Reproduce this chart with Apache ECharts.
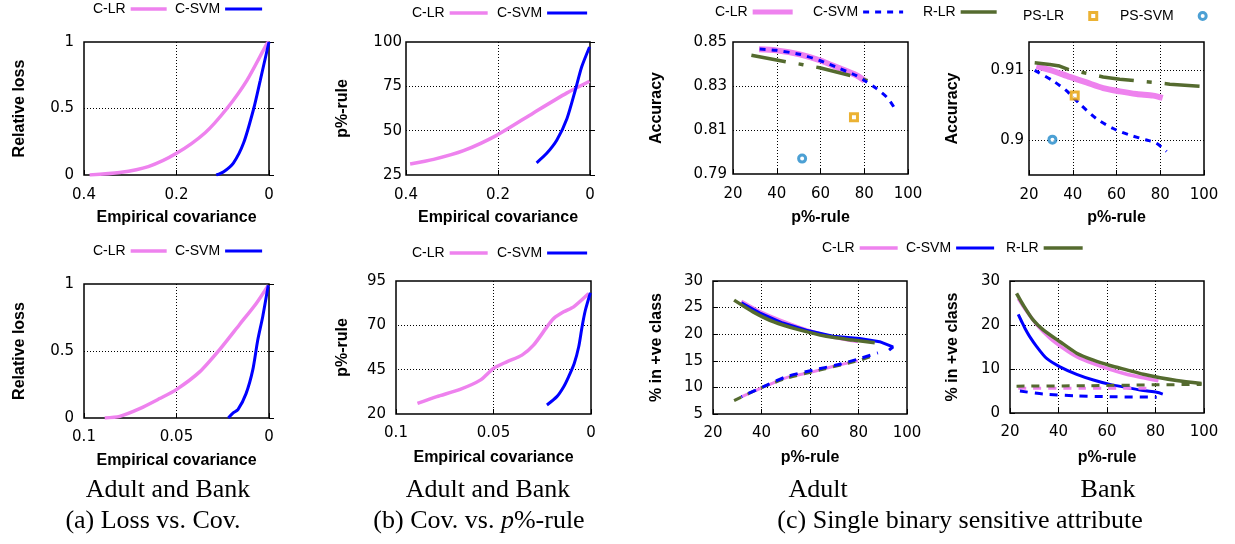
<!DOCTYPE html>
<html><head><meta charset="utf-8">
<script src="https://cdn.jsdelivr.net/npm/echarts@6/dist/echarts.min.js"></script>
<style>html,body{margin:0;padding:0;background:#fff}#c{width:1235px;height:544px}</style>
</head><body><div id="c"></div>
<script>
// ---------- data ----------
const lossAdultLR = [[0.388,0],[0.323,0.018],[0.261,0.063],[0.2,0.163],[0.138,0.318],[0.091,0.5],[0.048,0.71],[0.004,0.99],[0,1]];
const lossAdultSVM = [[0.114,0],[0.098,0.025],[0.077,0.09],[0.055,0.24],[0.033,0.5],[0.019,0.71],[0.004,0.94],[0,1]];
const pAdultLR = [[0.391,31.2],[0.34,33.8],[0.275,38.7],[0.202,47.5],[0.123,60],[0.05,71.3],[0.001,77.9]];
const pAdultSVM = [[0.116,31.9],[0.094,37.2],[0.072,44.7],[0.05,56.9],[0.032,72.8],[0.018,86],[0.001,97.2]];
const lossBankLR = [[0.0888,0],[0.0807,0.0125],[0.0699,0.07],[0.0591,0.145],[0.0501,0.212],[0.0375,0.344],[0.0267,0.51],[0.0159,0.698],[0.0069,0.855],[0.0004,0.99]];
const lossBankSVM = [[0.022,0],[0.0195,0.037],[0.0168,0.062],[0.0124,0.182],[0.0088,0.357],[0.0061,0.58],[0.0034,0.756],[0.0004,0.99]];
const pBankLR = [[0.089,26],[0.0791,29.8],[0.0671,33.9],[0.0568,39.1],[0.05,45.7],[0.0432,49.4],[0.0354,53.2],[0.0295,58.8],[0.0226,69.1],[0.0192,73.8],[0.014,77.6],[0.0089,80.4],[0.0012,87.9]];
const pBankSVM = [[0.0226,25.1],[0.0175,29.8],[0.014,35.4],[0.0115,41],[0.0086,48.5],[0.0063,57.9],[0.0046,69.1],[0.0029,78.5],[0.0003,88.4]];

const accAdultCLR = [[31.9,0.8467],[39.8,0.8462],[50.5,0.8444],[59.6,0.8417],[68.8,0.838],[76.4,0.8349],[80.2,0.8324]];
const accAdultCSVM = [[32.2,0.8468],[39.8,0.8462],[50.5,0.8444],[59.6,0.8416],[68.8,0.8379],[76.4,0.8347],[80.2,0.8324],[85.5,0.8289],[90.8,0.8244],[94.4,0.8191]];
const accAdultRLR = [[28.4,0.844],[44.4,0.841],[52,0.8397],[59.6,0.8383],[74.8,0.8345],[82.8,0.832]];
const accAdultPSLR = [[75.3,0.8158]];
const accAdultPSSVM = [[51.6,0.797]];

const accBankCLR = [[23.4,0.91056],[31,0.90986],[38.6,0.90901],[46.3,0.90822],[53.9,0.90742],[61.5,0.90695],[69.2,0.90657],[76.8,0.90634],[81.1,0.90601]];
const accBankCSVM = [[22.6,0.90995],[31,0.90845],[37.1,0.90704],[43.2,0.90516],[50.8,0.90305],[58.5,0.90164],[66.1,0.9007],[73.7,0.9],[78.3,0.89953],[82.9,0.89836]];
const accBankRLR = [[22.6,0.91103],[29.5,0.9108],[34,0.91056],[38.6,0.91],[46.3,0.90953],[53.9,0.90901],[61.5,0.90869],[69.2,0.90845],[76.8,0.90822],[84.4,0.90798],[99.7,0.90765]];
const accBankPSLR = [[40.9,0.90634]];
const accBankPSSVM = [[30.7,0.90005]];

const posAdultCLR = [[31.7,26.2],[40,24.1],[50,22.2],[60,20.6],[70,19.4],[79.8,18.6]];
const posAdultCSVM = [[31.7,25.9],[39.2,24],[48.8,22.1],[58.5,20.75],[69.5,19.6],[80.4,19.2],[88.7,18.6],[94.2,17.6],[92.6,17.0]];
const posAdultRLR = [[28.7,26.4],[36.5,24.2],[45.1,22.3],[54.9,20.9],[66.7,19.6],[77.7,18.9],[86.7,18.4]];
const negAdultCLR = [[31.7,8.2],[40,9.9],[50,11.8],[60,12.8],[70,14.0],[79.8,15.0]];
const negAdultCSVM = [[31.7,8.25],[40.6,10.1],[50.2,12],[61.2,13.25],[70.9,14.2],[80.4,15.4],[88,16.5]];
const negAdultRLR = [[28.7,7.5],[39.2,9.8],[50.2,11.7],[64,13.25],[80.4,15.1],[85.6,15.9]];

const posBankCLR = [[23.4,26.0],[26.9,23.1],[31,20.1],[36.5,17.0],[42,14.7],[47.5,12.8],[54.4,11.2],[61.2,9.9],[68.1,8.8],[75,8.0],[81.2,7.3]];
const posBankCSVM = [[23.4,22.4],[24.8,20.8],[26.2,19.2],[28.2,17.3],[31,15.1],[35.1,12.4],[40.6,10.5],[47.5,8.8],[54.4,7.5],[61.2,6.5],[68.1,5.8],[75,5.1],[80.5,4.7],[83,4.3]];
const posBankRLR = [[22.7,27.2],[25.5,24.5],[29.6,21.1],[33.7,18.9],[40.6,16.2],[47.5,13.6],[54.4,12.0],[61.2,10.8],[68.1,9.8],[75,8.8],[81.9,8.0],[88.7,7.4],[99,6.7]];
const negBankCLR = [[23.4,5.6],[50,5.6],[79,5.6]];
const negBankCSVM = [[24.1,5.0],[33.7,4.3],[47.5,3.9],[61.2,3.7],[80.5,3.6]];
const negBankRLR = [[22.7,6.1],[51.6,6.2],[79,6.4],[99,6.5]];

// tick labels
const accAdultTicks = [0.79,0.81,0.83,0.85];
const accBankTicks = [0.9,0.91];
const pBankTicks = [20,45,70,95];

// ---------- styling ----------
const PINK = '#EE82EE', BLUE = '#0000FF', GREEN = '#556B2F', ORANGE = '#E69F00', CYAN = '#1F88C9';
const DOT = [1,2];
const gridBoxes = [
  [84,42,185,133],[406,42,184,133],[733,42,175,132],[1029,42,175,133],
  [84,284,185,134],[396,281,195,133],[713,281,194,133],[1010,281,194,132]
];
const grids = gridBoxes.map(b => ({left:b[0], top:b[1], width:b[2], height:b[3], show:true,
  borderColor:'#000', borderWidth:1.5, backgroundColor:'transparent', containLabel:false}));

const labelFont = {fontFamily:'DejaVu Sans', fontSize:15, color:'#000'};
const nameFont = {fontFamily:'Liberation Sans', fontSize:16, fontWeight:'bold', color:'#000'};

function tickFmt(ticks){ return v => { const t = ticks.find(t => Math.abs(t - v) < 1e-7); return t === undefined ? '' : String(t); }; }

function ax(idx, o){
  return Object.assign({
    type:'value', gridIndex:idx, nameLocation:'middle', nameTextStyle:nameFont,
    axisLine:{show:false},
    axisTick:{show:true, inside:true, length:5, lineStyle:{color:'#000', width:1}},
    axisLabel:Object.assign({margin:10}, labelFont, o.label||{}),
    splitLine:{show:o.split!==false, showMinLine:false, showMaxLine:false, lineStyle:{type:DOT, color:'#000', width:1}}
  }, o.opt);
}

const xAxes = [
  ax(0,{label:{margin:13},opt:{min:0,max:0.4,interval:0.2,inverse:true,name:'Empirical covariance',nameGap:35}}),
  ax(1,{label:{margin:13},opt:{min:0,max:0.4,interval:0.2,inverse:true,name:'Empirical covariance',nameGap:35}}),
  ax(2,{label:{margin:13},opt:{min:20,max:100,interval:20,name:'p%-rule',nameGap:36}}),
  ax(3,{label:{margin:13},opt:{min:20,max:100,interval:20,name:'p%-rule',nameGap:35}}),
  ax(4,{label:{margin:12},opt:{min:0,max:0.1,interval:0.05,inverse:true,name:'Empirical covariance',nameGap:35}}),
  ax(5,{label:{margin:12},opt:{min:0,max:0.1,interval:0.05,inverse:true,name:'Empirical covariance',nameGap:36}}),
  ax(6,{label:{margin:12},opt:{min:20,max:100,interval:20,name:'p%-rule',nameGap:36}}),
  ax(7,{label:{margin:12},opt:{min:20,max:100,interval:20,name:'p%-rule',nameGap:37}})
];
const yAxes = [
  ax(0,{label:{margin:10},opt:{min:0,max:1,interval:0.5,name:'Relative loss',nameGap:56}}),
  ax(1,{label:{margin:4},opt:{min:25,max:100,interval:25,name:'p%-rule',nameGap:55}}),
  ax(2,{split:false,label:{margin:6,formatter:tickFmt(accAdultTicks)},opt:{min:0.79,max:0.85,interval:0.01,name:'Accuracy',nameGap:68}}),
  ax(3,{split:false,label:{margin:5,formatter:tickFmt(accBankTicks)},opt:{min:0.895,max:0.914,interval:0.005,name:'Accuracy',nameGap:68}}),
  ax(4,{label:{margin:10},opt:{min:0,max:1,interval:0.5,name:'Relative loss',nameGap:56}}),
  ax(5,{split:false,label:{margin:10,formatter:tickFmt(pBankTicks)},opt:{min:20,max:95,interval:5,name:'p%-rule',nameGap:45}}),
  ax(6,{label:{margin:10},opt:{min:5,max:30,interval:5,name:'% in +ve class',nameGap:48}}),
  ax(7,{label:{margin:10},opt:{min:0,max:30,interval:10,name:'% in +ve class',nameGap:49}})
];
[2,3,5].forEach(i => { yAxes[i].axisTick = {show:false}; });

function gridMarks(vals){
  return {silent:true, symbol:['none','none'], z:1, animation:false, label:{show:false},
    emphasis:{disabled:true}, lineStyle:{type:DOT, color:'#000', width:1},
    data: vals.map(v => ({yAxis:v}))};
}

function line(name, g, data, color, width, type, extra){
  return Object.assign({type:'line', name, xAxisIndex:g, yAxisIndex:g, data, symbol:'none',
    smooth:0.25, animation:false, silent:true, z:2,
    lineStyle:{color, width, type:type||'solid', cap:'butt'}, itemStyle:{color}}, extra||{});
}
function pt(name, g, data, sym, color){
  return {type:'scatter', name, xAxisIndex:g, yAxisIndex:g, data, symbol:sym, symbolSize:7,
    animation:false, silent:true, z:4, itemStyle:{color:'#fff', borderColor:color, borderWidth:3}};
}

const SQUARE = 'path://M0,0L10,0L10,10L0,10Z';
const DASH_ACC = [6,6], DASH_RLR = [35,13,5,13], DASH_POS = [8,7];
const series = [
  line('C-LR',0,lossAdultLR,PINK,3.5), line('C-SVM',0,lossAdultSVM,BLUE,3),
  line('C-LR',1,pAdultLR,PINK,3.5), line('C-SVM',1,pAdultSVM,BLUE,3),
  line('C-LR',2,accAdultCLR,PINK,6,'solid',{markLine:gridMarks([0.81,0.83])}),
  line('R-LR',2,accAdultRLR,GREEN,3.5,DASH_RLR,{smooth:false}),
  line('C-SVM',2,accAdultCSVM,BLUE,3,DASH_ACC,{z:3}),
  pt('PS-LR',2,accAdultPSLR,SQUARE,ORANGE), pt('PS-SVM',2,accAdultPSSVM,'circle',CYAN),
  line('C-LR',3,accBankCLR,PINK,6,'solid',{markLine:gridMarks([0.9,0.91])}),
  line('R-LR',3,accBankRLR,GREEN,3.5,DASH_RLR,{smooth:false}),
  line('C-SVM',3,accBankCSVM,BLUE,3,DASH_ACC,{z:3}),
  pt('PS-LR',3,accBankPSLR,SQUARE,ORANGE), pt('PS-SVM',3,accBankPSSVM,'circle',CYAN),
  line('C-LR',4,lossBankLR,PINK,3.5), line('C-SVM',4,lossBankSVM,BLUE,3),
  line('C-LR',5,pBankLR,PINK,3.5,'solid',{markLine:gridMarks([45,70])}), line('C-SVM',5,pBankSVM,BLUE,3),
  line('C-LR',6,posAdultCLR,PINK,3.5), line('C-SVM',6,posAdultCSVM,BLUE,3,'solid',{smooth:false}), line('R-LR',6,posAdultRLR,GREEN,3.5),
  line('C-LR',6,negAdultCLR,PINK,3,DASH_POS), line('R-LR',6,negAdultRLR,GREEN,3,DASH_POS),
  line('C-SVM',6,negAdultCSVM,BLUE,3,DASH_POS,{lineStyle:{color:BLUE,width:3,type:DASH_POS,dashOffset:7}}),
  line('C-LR',7,posBankCLR,PINK,3.5), line('C-SVM',7,posBankCSVM,BLUE,3), line('R-LR',7,posBankRLR,GREEN,3.5),
  line('C-LR',7,negBankCLR,PINK,3,DASH_POS), line('C-SVM',7,negBankCSVM,BLUE,3,DASH_POS), line('R-LR',7,negBankRLR,GREEN,3,DASH_POS)
];

// ---------- legends ----------
const legText = {fontFamily:'Liberation Sans', fontSize:14, color:'#000'};
function legLine(name, left, top, color, width, type, iw){
  return {left, top, align:'right', orient:'horizontal', padding:0, itemGap:0, selectedMode:false,
    itemWidth:iw||38, itemHeight:14, textStyle:legText,
    data:[{name, lineStyle:{color, width, type:type||'solid', cap:'butt'}, itemStyle:{opacity:0}}]};
}
function legPt(name, left, top, sym, color){
  return {left, top, align:'right', orient:'horizontal', padding:0, itemGap:0, selectedMode:false,
    itemWidth:48, itemHeight:7, symbolKeepAspect:true, textStyle:legText,
    data:[{name, icon:sym, itemStyle:{color:'#fff', borderColor:color, borderWidth:3}}]};
}
const legends = [
  legLine('C-LR',93,2,PINK,3.5,'solid',36), legLine('C-SVM',175,2,BLUE,3,'solid',37),
  legLine('C-LR',412,6,PINK,3.5,'solid',38), legLine('C-SVM',497,6,BLUE,3,'solid',40),
  legLine('C-LR',715,5,PINK,5,'solid',40), legLine('C-SVM',813,5,BLUE,3,DASH_ACC,40),
  legLine('R-LR',923,5,GREEN,3.5,'solid',36),
  legPt('PS-LR',1023,9,SQUARE,ORANGE), legPt('PS-SVM',1120,9,'circle',CYAN),
  legLine('C-LR',93,244,PINK,3.5,'solid',36), legLine('C-SVM',175,244,BLUE,3,'solid',37),
  legLine('C-LR',412,246,PINK,3.5,'solid',38), legLine('C-SVM',497,246,BLUE,3,'solid',40),
  legLine('C-LR',822,241,PINK,3.5,'solid',38), legLine('C-SVM',906,241,BLUE,3,'solid',38),
  legLine('R-LR',1006,241,GREEN,3.5,'solid',39)
];

// ---------- captions ----------
const capFont = {fontFamily:'Liberation Serif', fontSize:26, fill:'#000', align:'center', verticalAlign:'middle'};
function cap(text, x, y, rich){ return {type:'text', x, y, silent:true, style:Object.assign({text}, capFont, rich?{rich}:{})}; }
const graphic = [
  cap('Adult and Bank',168,490), cap('(a) Loss vs. Cov.',153,521),
  cap('Adult and Bank',488,490), cap('(b) Cov. vs. {i|p}%-rule',479,521,{i:{fontFamily:'Liberation Serif',fontSize:26,fontStyle:'italic',fill:'#000'}}),
  cap('Adult',818,490), cap('Bank',1108,490), cap('(c) Single binary sensitive attribute',960,521)
];

const chart = echarts.init(document.getElementById('c'), null, {renderer:'canvas'});
chart.setOption({animation:false, backgroundColor:'#fff', grid:grids, xAxis:xAxes, yAxis:yAxes,
  legend:legends, series, graphic});
</script></body></html>
